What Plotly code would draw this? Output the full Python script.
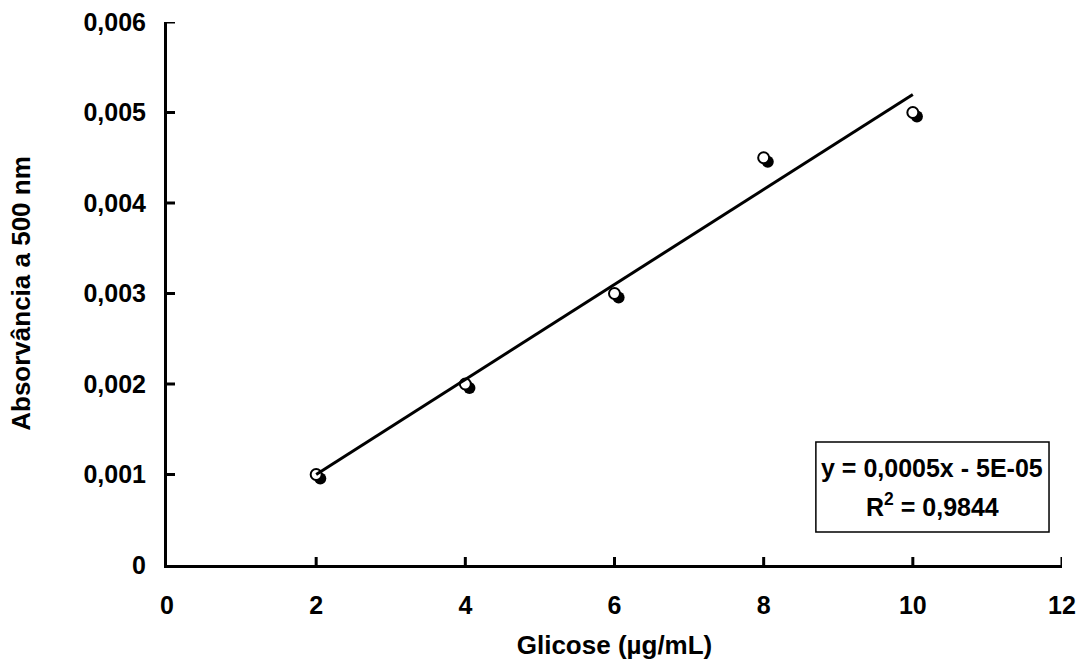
import plotly.graph_objects as go

# Glucose calibration data
glicose = [2, 4, 6, 8, 10]
absorbancia = [0.0010, 0.0020, 0.0030, 0.0045, 0.0050]

# Linear trend line (as reported: y = 0,0005x - 5E-05, R² = 0,9844)
slope = 0.000525
intercept = -0.00005
trend_x = [2, 10]

x_ticks = [0, 2, 4, 6, 8, 10, 12]
y_ticks = [0, 0.001, 0.002, 0.003, 0.004, 0.005, 0.006]
y_ticklabels = ["0", "0,001", "0,002", "0,003", "0,004", "0,005", "0,006"]

eq_line1 = "y = 0,0005x - 5E-05"
eq_line2 = "R<sup>2</sup> = 0,9844"

FONT = "Arial, Liberation Sans, sans-serif"
TICK_LEN = 8  # px, inward tick marks
# small offset for the marker drop-shadow
shadow_dx = 0.055
shadow_dy = -0.000045

fig = go.Figure()

fig.add_trace(go.Scatter(
    x=[v + shadow_dx for v in glicose],
    y=[v + shadow_dy for v in absorbancia],
    mode="markers",
    marker=dict(size=12, color="black", line=dict(width=0)),
    showlegend=False, hoverinfo="skip",
))
fig.add_trace(go.Scatter(
    x=glicose, y=absorbancia, mode="markers",
    marker=dict(size=11, color="white", line=dict(width=2, color="black")),
    showlegend=False,
))
fig.add_trace(go.Scatter(
    x=trend_x, y=[slope * v + intercept for v in trend_x],
    mode="lines", line=dict(color="black", width=3),
    showlegend=False,
))

axis_common = dict(
    showline=True, linecolor="black", linewidth=3,
    ticks="", showgrid=False, zeroline=False,
    tickfont=dict(family=FONT, size=25, color="black", weight="bold"),
)

fig.update_xaxes(
    range=[0, 12], tickvals=x_ticks, ticklabelstandoff=16,
    title=dict(text="Glicose (µg/mL)", standoff=18,
               font=dict(family=FONT, size=26, color="black", weight="bold")),
    **axis_common,
)
fig.update_yaxes(
    range=[0, 0.006], tickvals=y_ticks, ticktext=y_ticklabels,
    ticklabelstandoff=13,
    title=dict(text="Absorvância a 500 nm", standoff=46,
               font=dict(family=FONT, size=26, color="black", weight="bold")),
    **axis_common,
)

# inward tick marks, placed on the axis scales
for xv in x_ticks[1:]:
    fig.add_shape(type="line", xref="x", yref="y", ysizemode="pixel",
                  yanchor=0, x0=xv, x1=xv, y0=0, y1=TICK_LEN,
                  line=dict(color="black", width=3))
for yv in y_ticks[1:]:
    fig.add_shape(type="line", xref="x", yref="y", xsizemode="pixel",
                  xanchor=0, y0=yv, y1=yv, x0=0, x1=TICK_LEN,
                  line=dict(color="black", width=3))

# equation box
fig.add_shape(type="rect", xref="paper", yref="paper",
              x0=0.725, x1=0.9855, y0=0.0608, y1=0.2265,
              line=dict(color="black", width=1.5), fillcolor="white")
fig.add_annotation(text=eq_line1, xref="paper", yref="paper",
                   x=0.855, y=0.1786, showarrow=False,
                   xanchor="center", yanchor="middle",
                   font=dict(family=FONT, size=25, color="black", weight="bold"))
fig.add_annotation(text=eq_line2, xref="paper", yref="paper",
                   x=0.855, y=0.1105, showarrow=False,
                   xanchor="center", yanchor="middle",
                   font=dict(family=FONT, size=25, color="black", weight="bold"))

fig.update_layout(
    width=1078, height=666,
    margin=dict(l=167, r=16, t=22, b=101, autoexpand=False),
    plot_bgcolor="white", paper_bgcolor="white",
    showlegend=False,
)

fig.write_html("out.html")
